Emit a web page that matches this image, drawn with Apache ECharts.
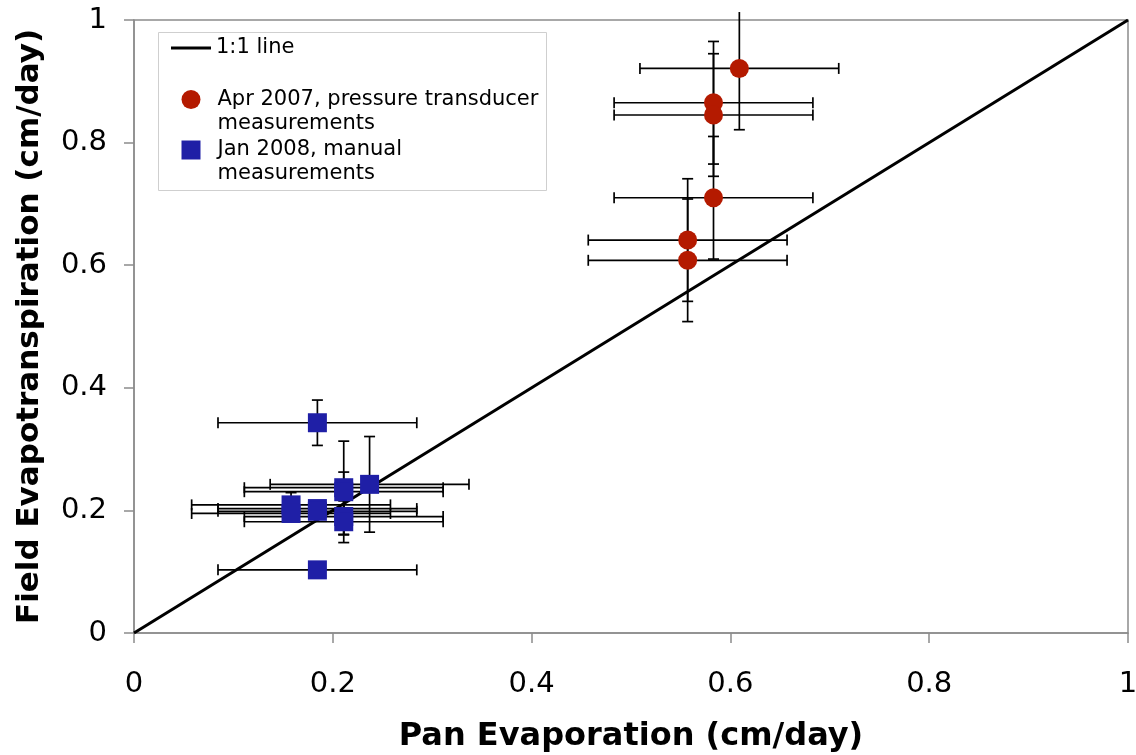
<!DOCTYPE html>
<html>
<head>
<meta charset="utf-8">
<script src="https://cdn.jsdelivr.net/npm/echarts@6/dist/echarts.min.js"></script>
<style>
  html, body { margin: 0; padding: 0; background: #fff; }
  #chart { width: 1136px; height: 755px; }
</style>
</head>
<body>
<div id="chart"></div>
<script>
// Axis ticks (same scale on both axes, cm/day)
const axisTicks = [0, 0.2, 0.4, 0.6, 0.8, 1];
const tickLabels = ['0', '0.2', '0.4', '0.6', '0.8', '1'];

// 1:1 reference line
const oneToOneLine = [[0, 0], [1, 1]];

// Apr 2007, pressure transducer measurements
const aprPanEvap   = [0.609, 0.583, 0.583, 0.583, 0.557, 0.557];
const aprFieldET   = [0.921, 0.865, 0.845, 0.710, 0.641, 0.608];
const aprPanErr    = [0.1, 0.1, 0.1, 0.1, 0.1, 0.1];
const aprFieldErr  = [0.1, 0.1, 0.1, 0.1, 0.1, 0.1];

// Jan 2008, manual measurements
const janPanEvap   = [0.1845, 0.1845, 0.158, 0.158, 0.1845, 0.1845, 0.211, 0.211, 0.211, 0.211, 0.237];
const janFieldET   = [0.343, 0.103, 0.209, 0.195, 0.203, 0.1985, 0.237, 0.2305, 0.190, 0.1815, 0.2425];
const janPanErr    = [0.1, 0.1, 0.1, 0.1, 0.1, 0.1, 0.1, 0.1, 0.1, 0.1, 0.1];
const janFieldErr  = [0.037, 0.01, 0.02, 0.01, 0.01, 0.01, 0.076, 0.032, 0.03, 0.034, 0.078];

const LINE_NAME = '1:1 line';
const APR_NAME = 'Apr 2007, pressure transducer\nmeasurements';
const JAN_NAME = 'Jan 2008, manual\nmeasurements';

const RED = '#B41A00';
const BLUE = '#1F1FA6';
const AXIS_GREY = '#8c8c8c';
const FONT = 'DejaVu Sans, Verdana, sans-serif';

// Error bars are cut off slightly above the top of the plot
const ERR_CLIP_TOP = 1.013;
const CAP_HALF = 5.5;

function points(xs, ys) { return xs.map((x, i) => [x, ys[i]]); }
function errRows(xs, ys, ex, ey) { return xs.map((x, i) => [x, ys[i], ex[i], ey[i]]); }

function renderErrorBar(params, api) {
  const x = api.value(0), y = api.value(1), ex = api.value(2), ey = api.value(3);
  const style = { stroke: '#000', lineWidth: 1.7 };
  const left = api.coord([x - ex, y]);
  const right = api.coord([x + ex, y]);
  const hiVal = y + ey;
  const clipped = hiVal > ERR_CLIP_TOP;
  const top = api.coord([x, clipped ? ERR_CLIP_TOP : hiVal]);
  const bottom = api.coord([x, y - ey]);
  const seg = (x1, y1, x2, y2) => ({ type: 'line', shape: { x1, y1, x2, y2 }, style });
  const children = [
    seg(left[0], left[1], right[0], right[1]),
    seg(left[0], left[1] - CAP_HALF, left[0], left[1] + CAP_HALF),
    seg(right[0], right[1] - CAP_HALF, right[0], right[1] + CAP_HALF),
    seg(bottom[0], bottom[1], top[0], top[1]),
    seg(bottom[0] - CAP_HALF, bottom[1], bottom[0] + CAP_HALF, bottom[1])
  ];
  if (!clipped) children.push(seg(top[0] - CAP_HALF, top[1], top[0] + CAP_HALF, top[1]));
  return { type: 'group', children };
}

const legendText = { fontFamily: FONT, fontSize: 21, lineHeight: 24, color: '#000' };
// Two-line entries: a leading blank line keeps the marker level with the first text line
const markerLegendText = Object.assign({ padding: [0, 0, 0, 12] }, legendText);
const twoLineFormatter = name => '\n' + name;

const chart = echarts.init(document.getElementById('chart'), null, { renderer: 'canvas' });

const axisCommon = {
  type: 'value',
  min: axisTicks[0],
  max: axisTicks[axisTicks.length - 1],
  interval: axisTicks[1] - axisTicks[0],
  splitLine: { show: false },
  axisLine: { show: true, onZero: false, lineStyle: { color: AXIS_GREY, width: 1.5 } },
  axisTick: { show: true, inside: false, length: 10, lineStyle: { color: AXIS_GREY, width: 1.5 } },
  nameLocation: 'middle'
};

function tickFormatter(v) {
  const i = axisTicks.findIndex(t => Math.abs(t - v) < 1e-9);
  return i >= 0 ? tickLabels[i] : '';
}

chart.setOption({
  animation: false,
  backgroundColor: '#fff',
  grid: {
    left: 134, right: 8, top: 20, bottom: 122,
    outerBoundsMode: 'none',
    containLabel: false,
    show: true, borderColor: AXIS_GREY, borderWidth: 1.5, backgroundColor: 'transparent'
  },
  graphic: [{
    type: 'rect', left: 158, top: 32, z: 1,
    shape: { width: 388, height: 158 },
    style: { fill: '#fff', stroke: '#cfcfcf', lineWidth: 1 }
  }],
  legend: [
    {
      data: [{ name: LINE_NAME, icon: 'rect' }], left: 171, top: 36, orient: 'vertical', padding: 0,
      itemWidth: 40, itemHeight: 3, selectedMode: false, z: 5,
      textStyle: legendText
    },
    {
      data: [APR_NAME], left: 181.5, top: 63.5, orient: 'vertical', padding: 0,
      itemWidth: 19, itemHeight: 19, selectedMode: false, z: 5,
      formatter: twoLineFormatter,
      textStyle: markerLegendText
    },
    {
      data: [JAN_NAME], left: 181.5, top: 114, orient: 'vertical', padding: 0,
      itemWidth: 19, itemHeight: 19, selectedMode: false, z: 5,
      formatter: twoLineFormatter,
      textStyle: markerLegendText
    }
  ],
  xAxis: Object.assign({}, axisCommon, {
    name: 'Pan Evaporation (cm/day)',
    nameGap: 88,
    nameTextStyle: { fontFamily: FONT, fontSize: 32, fontWeight: 'bold', color: '#000' },
    axisLabel: { margin: 37, fontFamily: FONT, fontSize: 29, color: '#000', formatter: tickFormatter }
  }),
  yAxis: Object.assign({}, axisCommon, {
    name: 'Field Evapotranspiration (cm/day)',
    nameGap: 89,
    nameTextStyle: { fontFamily: FONT, fontSize: 31, fontWeight: 'bold', color: '#000' },
    axisLabel: { margin: 27, fontFamily: FONT, fontSize: 29, color: '#000', formatter: tickFormatter }
  }),
  series: [
    {
      name: LINE_NAME,
      type: 'line',
      data: oneToOneLine,
      symbol: 'none',
      lineStyle: { color: '#000', width: 3 },
      itemStyle: { color: '#000' },
      z: 2
    },
    {
      name: 'errApr',
      type: 'custom',
      renderItem: renderErrorBar,
      data: errRows(aprPanEvap, aprFieldET, aprPanErr, aprFieldErr),
      encode: { x: 0, y: 1 },
      clip: false,
      z: 3
    },
    {
      name: 'errJan',
      type: 'custom',
      renderItem: renderErrorBar,
      data: errRows(janPanEvap, janFieldET, janPanErr, janFieldErr),
      encode: { x: 0, y: 1 },
      clip: false,
      z: 3
    },
    {
      name: APR_NAME,
      type: 'scatter',
      data: points(aprPanEvap, aprFieldET),
      symbol: 'circle',
      symbolSize: 19,
      itemStyle: { color: RED, opacity: 1 },
      z: 4
    },
    {
      name: JAN_NAME,
      type: 'scatter',
      data: points(janPanEvap, janFieldET),
      symbol: 'rect',
      symbolSize: 19,
      itemStyle: { color: BLUE, opacity: 1 },
      z: 4
    }
  ]
});
</script>
</body>
</html>
